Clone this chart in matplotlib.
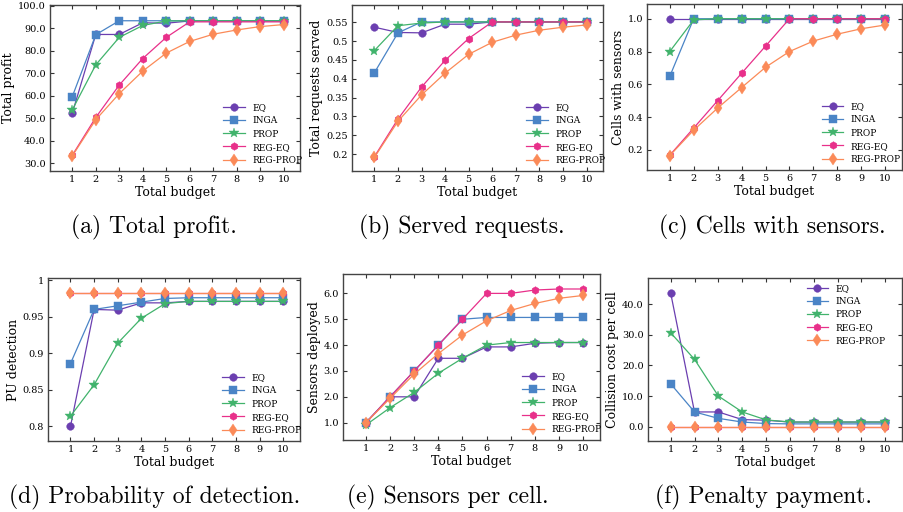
"""Six-panel budget comparison: EQ / INGA / PROP / REG-EQ / REG-PROP."""
import matplotlib
matplotlib.use("Agg")
import matplotlib.pyplot as plt
from matplotlib.ticker import FormatStrFormatter

budget = [1, 2, 3, 4, 5, 6, 7, 8, 9, 10]
methods = ["EQ", "INGA", "PROP", "REG-EQ", "REG-PROP"]

profit_eq = [52.3, 87.3, 87.3, 92.5, 92.3, 93.3, 93.3, 93.3, 93.3, 93.3]
profit_inga = [59.7, 87.2, 93.4, 93.4, 93.4, 93.4, 93.4, 93.4, 93.4, 93.4]
profit_prop = [53.8, 73.8, 86.0, 91.3, 93.3, 93.4, 93.4, 93.4, 93.4, 93.4]
profit_regeq = [33.6, 50.4, 64.8, 76.6, 86.0, 92.9, 92.9, 92.9, 92.9, 92.9]
profit_regprop = [33.3, 49.4, 61.0, 71.0, 79.0, 84.2, 87.4, 89.3, 90.8, 91.7]

served_eq = [0.537, 0.523, 0.522, 0.545, 0.545, 0.551, 0.551, 0.551, 0.551, 0.551]
served_inga = [0.416, 0.522, 0.551, 0.551, 0.551, 0.551, 0.551, 0.551, 0.551, 0.551]
served_prop = [0.475, 0.541, 0.548, 0.551, 0.551, 0.551, 0.551, 0.551, 0.551, 0.551]
served_regeq = [0.193, 0.293, 0.378, 0.449, 0.507, 0.551, 0.551, 0.551, 0.551, 0.551]
served_regprop = [0.191, 0.287, 0.357, 0.415, 0.465, 0.497, 0.516, 0.529, 0.537, 0.543]

cells_eq = [1.0, 1.0, 1.0, 1.0, 1.0, 1.0, 1.0, 1.0, 1.0, 1.0]
cells_inga = [0.648, 1.0, 1.0, 1.0, 1.0, 1.0, 1.0, 1.0, 1.0, 1.0]
cells_prop = [0.80, 0.993, 1.0, 1.0, 1.0, 1.0, 1.0, 1.0, 1.0, 1.0]
cells_regeq = [0.167, 0.333, 0.50, 0.667, 0.833, 1.0, 1.0, 1.0, 1.0, 1.0]
cells_regprop = [0.165, 0.32, 0.455, 0.58, 0.704, 0.80, 0.864, 0.906, 0.939, 0.962]

pud_eq = [0.800, 0.960, 0.959, 0.969, 0.969, 0.971, 0.971, 0.971, 0.971, 0.971]
pud_inga = [0.886, 0.960, 0.965, 0.970, 0.975, 0.976, 0.976, 0.976, 0.976, 0.976]
pud_prop = [0.814, 0.857, 0.914, 0.948, 0.968, 0.971, 0.971, 0.971, 0.971, 0.971]
pud_regeq = [0.983] * 10
pud_regprop = [0.983] * 10

sens_eq = [1.0, 2.0, 2.0, 3.49, 3.49, 3.93, 3.93, 4.07, 4.1, 4.1]
sens_inga = [1.0, 2.0, 3.0, 4.0, 5.0, 5.07, 5.07, 5.07, 5.07, 5.07]
sens_prop = [0.91, 1.58, 2.17, 2.91, 3.49, 4.0, 4.1, 4.1, 4.1, 4.1]
sens_regeq = [1.0, 2.0, 3.0, 4.0, 5.0, 6.0, 6.0, 6.13, 6.17, 6.17]
sens_regprop = [1.0, 1.94, 2.88, 3.67, 4.39, 4.94, 5.34, 5.61, 5.81, 5.92]

coll_eq = [43.7, 4.8, 4.8, 2.3, 2.1, 1.5, 1.5, 1.5, 1.5, 1.5]
coll_inga = [14.0, 4.8, 2.7, 1.5, 1.0, 0.9, 0.9, 0.9, 0.9, 0.9]
coll_prop = [30.7, 22.0, 10.0, 4.8, 2.2, 1.5, 1.5, 1.5, 1.5, 1.5]
coll_regeq = [0.0] * 10
coll_regprop = [0.0] * 10

colors = ["#6b3fb0", "#4a84c6", "#41b36c", "#e8308a", "#fb8a58"]
markers = ["o", "s", "*", "h", "d"]
msizes = [5.5, 5.5, 7, 5.5, 6.5]

plt.rcParams["font.family"] = "DejaVu Serif"

fig = plt.figure(figsize=(9.04, 5.12), dpi=100)
W, H = 904.0, 512.0


def make_ax(l, r, t, b):
    return fig.add_axes([l / W, 1 - b / H, (r - l) / W, (b - t) / H])


# axes box, series, ylabel, ylim, yticks, tick format, legend loc, legend anchor
panels = [
    (make_ax(50, 300, 5, 171), [profit_eq, profit_inga, profit_prop, profit_regeq, profit_regprop],
     "Total profit", (26.6, 100.4), [30, 40, 50, 60, 70, 80, 90, 100], "%.1f",
     "lower right", (1.035, 0.0)),
    (make_ax(352, 603, 5, 171), [served_eq, served_inga, served_prop, served_regeq, served_regprop],
     "Total requests served", (0.155, 0.596),
     [0.2, 0.25, 0.3, 0.35, 0.4, 0.45, 0.5, 0.55], None, "lower right", (1.035, 0.0)),
    (make_ax(647, 902, 4, 170), [cells_eq, cells_inga, cells_prop, cells_regeq, cells_regprop],
     "Cells with sensors", (0.077, 1.09), [0.2, 0.4, 0.6, 0.8, 1.0], "%.1f",
     "lower right", (1.02, 0.0)),
    (make_ax(48, 300, 278, 441), [pud_eq, pud_inga, pud_prop, pud_regeq, pud_regprop],
     "PU detection", (0.78, 1.003), [0.8, 0.85, 0.9, 0.95, 1.0], None,
     "lower right", (1.03, 0.0)),
    (make_ax(343, 600, 274, 440), [sens_eq, sens_inga, sens_prop, sens_regeq, sens_regprop],
     "Sensors deployed", (0.33, 6.75), [1, 2, 3, 4, 5, 6], "%.1f",
     "lower right", (1.03, 0.0)),
    (make_ax(648, 902, 278, 441), [coll_eq, coll_inga, coll_prop, coll_regeq, coll_regprop],
     "Collision cost per cell", (-4.7, 48.6), [0, 10, 20, 30, 40], "%.1f",
     "upper right", (0.96, 1.0)),
]

for ax, series, ylabel, ylim, yticks, fmt, loc, anchor in panels:
    for vals, name, c, m, ms in zip(series, methods, colors, markers, msizes):
        ax.plot(budget, vals, color=c, marker=m, markersize=ms, linewidth=0.9,
                markeredgewidth=0.3, markeredgecolor=c, label=name)
    ax.set_xlim(0.05, 10.7)
    ax.set_ylim(*ylim)
    ax.set_xticks(budget)
    ax.set_yticks(yticks)
    if fmt:
        ax.yaxis.set_major_formatter(FormatStrFormatter(fmt))
    else:
        ax.set_yticklabels([f"{v:g}" for v in yticks])
    ax.tick_params(direction="in", top=True, right=True, length=3, width=0.8,
                   labelsize=7, color="#333333", pad=3)
    for sp in ax.spines.values():
        sp.set_color("#444444")
        sp.set_linewidth(1.0)
    ax.set_xlabel("Total budget", fontsize=9, labelpad=1)
    ax.set_ylabel(ylabel, fontsize=9, labelpad=2)
    ax.legend(loc=loc, bbox_to_anchor=anchor, frameon=False, fontsize=6.5,
              handlelength=2.4, labelspacing=0.45, borderaxespad=0.3, numpoints=1)

captions = [
    (154, 227, "(a) Total profit."),
    (462, 227, "(b) Served requests."),
    (772, 227, "(c) Cells with sensors."),
    (155, 497, "(d) Probability of detection."),
    (448, 497, "(e) Sensors per cell."),
    (764, 497, "(f) Penalty payment."),
]
for x, y, txt in captions:
    fig.text(x / W, 1 - y / H, txt, ha="center", va="center", fontsize=17,
             family="cmr10")

fig.savefig("out.png", dpi=100)
